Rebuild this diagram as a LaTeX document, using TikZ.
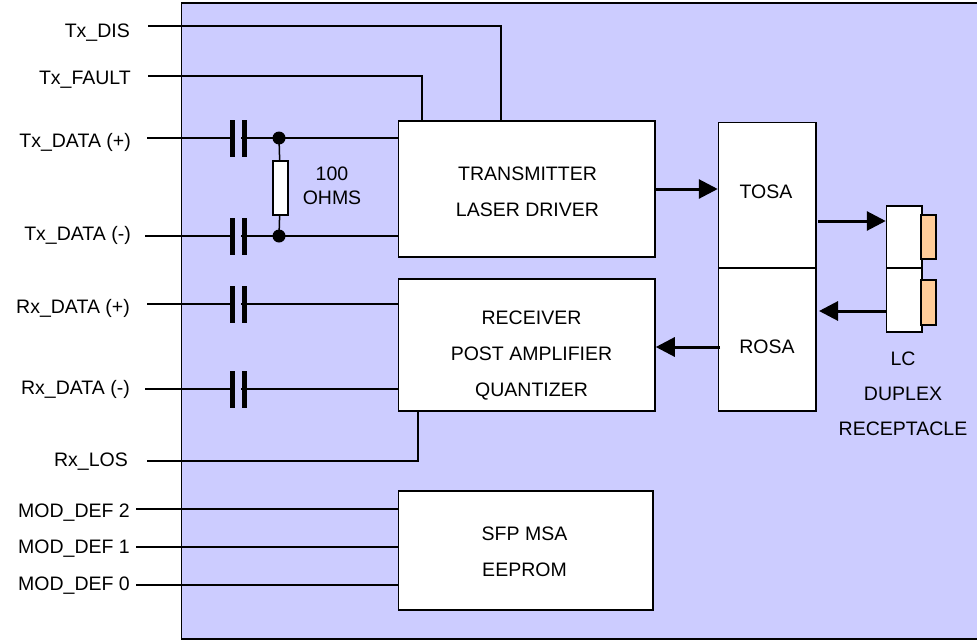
\documentclass[tikz,border=0pt]{standalone}
\usepackage{fontspec}
\usepackage{xcolor}
\setmainfont{Liberation Sans}
\usetikzlibrary{calc,arrows.meta}
\definecolor{panelblue}{RGB}{204,204,255}
\definecolor{ferrule}{RGB}{255,204,153}
\tikzset{
    block/.style={draw=black,fill=white,line width=1.5pt,inner sep=0pt},
    pinlabel/.style={anchor=east,inner sep=0pt,text height=14pt,text depth=4pt,font=\fontsize{19.5}{24}\selectfont},
    caption/.style={inner sep=0pt,align=center,font=\fontsize{19.5}{36}\selectfont},
    wire/.style={draw=black,line width=1.5pt},
    signal/.style={draw=black,line width=3pt,-{Triangle[length=19pt,width=19pt]}}
}

\begin{document}
\begin{tikzpicture}[x=1pt,y=-1pt]
            \useasboundingbox (0,0) rectangle (977,640);
            % panel
            \draw[fill=panelblue,line width=1.5pt] (181.5,3) rectangle (979,639);

            % pin ends
            \coordinate (txdis) at (148,26);
            \coordinate (txfault) at (148,76);
            \coordinate (txdatap) at (147,138);
            \coordinate (txdatam) at (145,236);
            \coordinate (rxdatap) at (147,304);
            \coordinate (rxdatam) at (145,389);
            \coordinate (rxlos) at (147,461);
            \coordinate (moddeftwo) at (136,509);
            \coordinate (moddefone) at (136,547);
            \coordinate (moddefzero) at (136,585);

            % pin labels
            \node[pinlabel] (txdislabel) at (130,32) {Tx\_DIS};
            \node[pinlabel] (txfaultlabel) at (131,79) {Tx\_FAULT};
            \node[pinlabel] (txdataplabel) at (131,142) {Tx\_DATA (+)};
            \node[pinlabel] (txdatamlabel) at (131,235) {Tx\_DATA (-)};
            \node[pinlabel] (rxdataplabel) at (130,308) {Rx\_DATA (+)};
            \node[pinlabel] (rxdatamlabel) at (130,389) {Rx\_DATA (-)};
            \node[pinlabel] (rxloslabel) at (128,461) {Rx\_LOS};
            \node[pinlabel] (moddeftwolabel) at (130,512) {MOD\_DEF 2};
            \node[pinlabel] (moddefonelabel) at (130,548) {MOD\_DEF 1};
            \node[pinlabel] (moddefzerolabel) at (130,585) {MOD\_DEF 0};

            % blocks
            \node[block,minimum width=256.5pt,minimum height=136pt] (driver) at (526.75,189) {};
            \node[block,minimum width=256.5pt,minimum height=132pt] (receiver) at (526.75,345) {};
            \node[block,minimum width=254.5pt,minimum height=119pt] (eeprom) at (525.75,550.5) {};
            \node[block,minimum width=97.5pt,minimum height=145.5pt] (tosa) at (767.25,195.25) {};
            \node[block,minimum width=97.5pt,minimum height=143pt] (rosa) at (767.25,339.5) {};

            % block texts
            \node[caption] (drivertext) at (527.5,192) {TRANSMITTER\\LASER DRIVER};
            \node[caption] (receivertext) at (531.5,356) {RECEIVER\\POST AMPLIFIER\\QUANTIZER};
            \node[caption] (eepromtext) at (524.5,551.5) {SFP MSA\\EEPROM};
            \node[caption] (tosatext) at (766,192) {TOSA};
            \node[caption] (rosatext) at (767,347) {ROSA};

            % receptacle
            \node[block,minimum width=35.5pt,minimum height=62pt] (lcupper) at (904.25,237) {};
            \node[block,minimum width=35.5pt,minimum height=64pt] (lclower) at (904.25,300) {};
            \node[block,fill=ferrule,minimum width=15pt,minimum height=44pt] (ferruleupper) at (928.5,237) {};
            \node[block,fill=ferrule,minimum width=15pt,minimum height=45pt] (ferrulelower) at (928.5,302.5) {};
            \node[caption,font=\fontsize{19.5}{35}\selectfont] (lclabel) at (903,393.5) {LC\\DUPLEX\\RECEPTACLE};

            % resistor
            \node[block,minimum width=15pt,minimum height=54pt] (resistor) at (280.5,188) {};
            \node[caption,font=\fontsize{19.5}{24}\selectfont] (resistorlabel) at (332,186) {100\\OHMS};
            \fill (279,138) circle (6.5pt) coordinate (junctionp);
            \fill (279,236) circle (6.5pt) coordinate (junctionm);
            \draw[wire] (junctionp) -- (resistor);
            \draw[wire] (junctionm) -- (resistor);

            % pins going in to the blocks
            \draw[wire] (txdis) -| ($(driver.north west)+(103,0)$);
            \draw[wire] (txfault) -| ($(driver.north west)+(24,0)$);
            \draw[wire] (rxlos) -| ($(receiver.south west)+(20,0)$);
            \foreach \pin in {txdatap,txdatam} {
                \draw[wire] (\pin) -- (\pin -| driver.west);
            }
            \foreach \pin in {rxdatap,rxdatam} {
                \draw[wire] (\pin) -- (\pin -| receiver.west);
            }
            \foreach \pin in {moddeftwo,moddefone,moddefzero} {
                \draw[wire] (\pin) -- (\pin -| eeprom.west);
            }

            % capacitors
            \foreach \y in {138,236,304,389} {
                \fill[panelblue] (234,\y-2) rectangle (241,\y+2);
                \fill (230,\y-18.5) rectangle ++(5,37);
                \fill (242,\y-18.5) rectangle ++(5,37);
            }

            % optical paths
            \coordinate (tosaout) at (818,221);
            \coordinate (lcout) at (lclower.west |- 0,311);
            \coordinate (rosaout) at (720,347);
            \draw[signal] (driver.east) -- (driver.east -| tosa.west);
            \draw[signal] (tosaout) -- (tosaout -| lcupper.west);
            \draw[signal] (lcout) -- (819,311);
            \draw[signal] (rosaout) -- (rosaout -| receiver.east);
\end{tikzpicture}
\end{document}
